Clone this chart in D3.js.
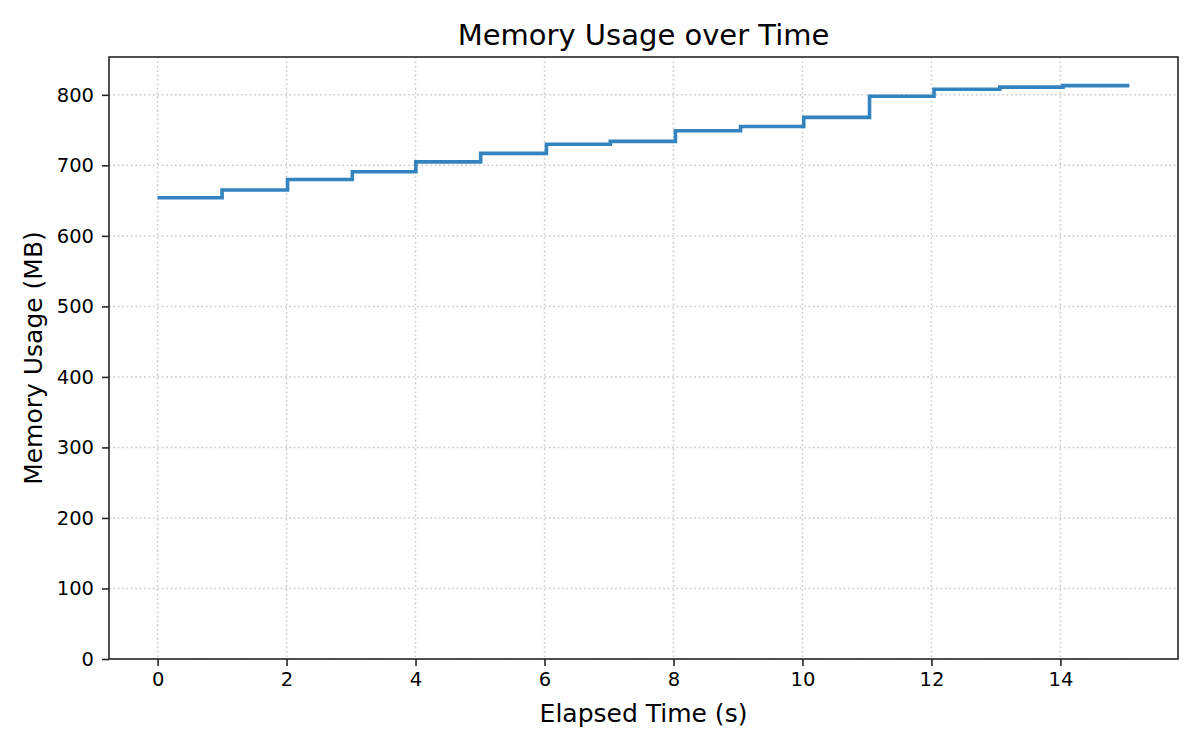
<!DOCTYPE html>
<html>
<head>
<meta charset="utf-8">
<script src="https://cdn.jsdelivr.net/npm/d3@7"></script>
<style>
  html, body { margin: 0; padding: 0; background: #fff; }
  svg { display: block; font-family: "DejaVu Sans", sans-serif; }
</style>
</head>
<body>
<svg id="chart" width="1200" height="750"></svg>
<script>
// Data (step-post: each value holds until the next time)
const times = [0, 1.0, 2.015, 3.02, 4.005, 5.01, 6.03, 7.02, 8.03, 9.04, 10.02, 11.04, 12.04, 13.06, 14.04, 15.07];
const memoryMB = [654, 665, 680, 691, 705, 717, 730, 734, 749, 755, 768, 798, 808, 811, 813, 813];
const xTicks = [0, 2, 4, 6, 8, 10, 12, 14];
const yTicks = [0, 100, 200, 300, 400, 500, 600, 700, 800];
const titleText = "Memory Usage over Time";
const xLabelText = "Elapsed Time (s)";
const yLabelText = "Memory Usage (MB)";

const svg = d3.select("#chart");
const plot = { left: 109, right: 1178, top: 57, bottom: 659 };

const tMax = d3.max(times);
const xPad = 0.05 * (tMax - 0);
const x = d3.scaleLinear().domain([0 - xPad, tMax + xPad]).range([plot.left, plot.right]);
const yMax = d3.max(memoryMB);
const y = d3.scaleLinear().domain([0, yMax * 1.05]).range([plot.bottom, plot.top]);

// Grid
const grid = svg.append("g");
grid.selectAll("line.vg").data(xTicks).enter().append("line")
  .attr("x1", d => x(d)).attr("x2", d => x(d))
  .attr("y1", plot.top).attr("y2", plot.bottom)
  .attr("stroke", "#c8c8c8").attr("stroke-width", 1.5).attr("stroke-dasharray", "1.6,2.8");
grid.selectAll("line.hg").data(yTicks).enter().append("line")
  .attr("x1", plot.left).attr("x2", plot.right)
  .attr("y1", d => y(d)).attr("y2", d => y(d))
  .attr("stroke", "#c8c8c8").attr("stroke-width", 1.5).attr("stroke-dasharray", "1.6,2.8");

// Step line
const pts = times.map((t, i) => [t, memoryMB[i]]);
const line = d3.line().x(d => x(d[0])).y(d => y(d[1])).curve(d3.curveStepAfter);
svg.append("path").datum(pts)
  .attr("d", line)
  .attr("fill", "none")
  .attr("stroke", "#3383bf")
  .attr("stroke-width", 3.6)
  .attr("stroke-linejoin", "miter");

// Axes
const xAxis = d3.axisBottom(x).tickValues(xTicks).tickSize(7).tickPadding(6).tickFormat(d3.format("d"));
const yAxis = d3.axisLeft(y).tickValues(yTicks).tickSize(7).tickPadding(8).tickFormat(d3.format("d"));
const gx = svg.append("g").attr("transform", `translate(0,${plot.bottom})`).call(xAxis);
const gy = svg.append("g").attr("transform", `translate(${plot.left},0)`).call(yAxis);
[gx, gy].forEach(g => {
  g.select(".domain").remove();
  g.selectAll(".tick line").attr("stroke", "#262626").attr("stroke-width", 1.6);
  g.selectAll(".tick text").attr("fill", "#000").style("font-size", "19.5px").style("font-family", "DejaVu Sans, sans-serif");
});

// Spines
svg.append("rect")
  .attr("x", plot.left).attr("y", plot.top)
  .attr("width", plot.right - plot.left).attr("height", plot.bottom - plot.top)
  .attr("fill", "none").attr("stroke", "#262626").attr("stroke-width", 1.6);

// Title & labels
svg.append("text").attr("x", (plot.left + plot.right) / 2).attr("y", 45)
  .attr("text-anchor", "middle").style("font-size", "29px").attr("fill", "#000").text(titleText);
svg.append("text").attr("x", (plot.left + plot.right) / 2).attr("y", 722)
  .attr("text-anchor", "middle").style("font-size", "25px").attr("fill", "#000").text(xLabelText);
svg.append("text").attr("transform", `translate(42,${(plot.top + plot.bottom) / 2}) rotate(-90)`)
  .attr("text-anchor", "middle").style("font-size", "25px").attr("fill", "#000").text(yLabelText);
</script>
</body>
</html>
